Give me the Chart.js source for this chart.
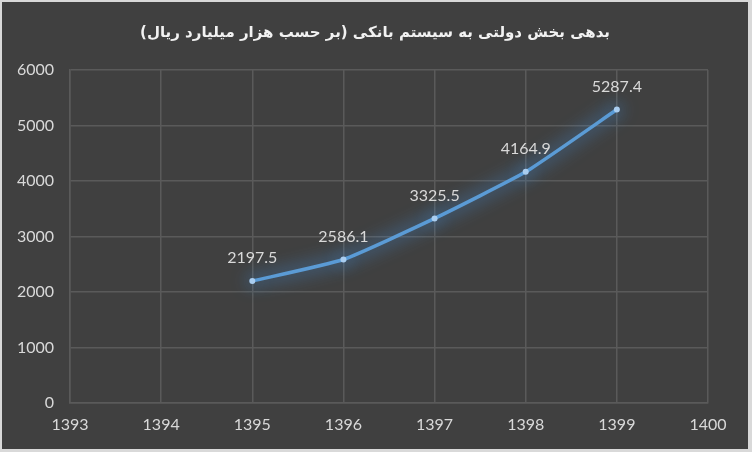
<!DOCTYPE html>
<html>
<head>
<meta charset="utf-8">
<script src="https://cdn.jsdelivr.net/npm/chart.js@4.4.0/dist/chart.umd.min.js"></script>
<style>
  html, body { margin: 0; padding: 0; background: #d9d9d9; }
  #outer { position: absolute; left: 0; top: 0; width: 752px; height: 452px; background: #d9d9d9; }
  #inner { position: absolute; left: 2px; top: 2px; width: 746px; height: 447px; background: #404040; }
  canvas { display: block; }
</style>
</head>
<body>
<div id="outer"><div id="inner"><canvas id="c" width="746" height="447"></canvas></div></div>
<script>
const titleText = 'بدهی بخش دولتی به سیستم بانکی (بر حسب هزار میلیارد ریال)';
const years = [1395, 1396, 1397, 1398, 1399];
const debtValues = [2197.5, 2586.1, 3325.5, 4164.9, 5287.4];
const debtLabels = ['2197.5', '2586.1', '3325.5', '4164.9', '5287.4'];
const xTickMin = 1393, xTickMax = 1400;
const yTickMin = 0, yTickMax = 6000, yTickStep = 1000;

const titlePlugin = {
  id: 'rtlTitle',
  afterDraw(chart) {
    const ctx = chart.ctx;
    ctx.save();
    ctx.font = 'bold 15px "DejaVu Sans", sans-serif';
    ctx.fillStyle = '#f2f2f2';
    ctx.direction = 'rtl';
    ctx.textAlign = 'right';
    ctx.textBaseline = 'middle';
    ctx.fillText(titleText, 608, 31);
    ctx.restore();
  }
};

const glowPlugin = {
  id: 'glow',
  beforeDatasetDraw(chart) {
    const ctx = chart.ctx;
    ctx.save();
    ctx.shadowColor = 'rgba(70,160,255,1)';
    ctx.shadowBlur = 18;
  },
  afterDatasetDraw(chart) {
    chart.ctx.restore();
  }
};

const labelPlugin = {
  id: 'valueLabels',
  afterDatasetsDraw(chart) {
    const ctx = chart.ctx;
    const meta = chart.getDatasetMeta(0);
    ctx.save();
    ctx.font = '16px Lato, "Open Sans", sans-serif';
    ctx.fillStyle = '#d9d9d9';
    ctx.textAlign = 'center';
    ctx.textBaseline = 'middle';
    meta.data.forEach((pt, i) => {
      ctx.fillText(debtLabels[i], pt.x, pt.y - 23);
    });
    ctx.restore();
  }
};

new Chart(document.getElementById('c'), {
  type: 'line',
  data: {
    datasets: [{
      data: years.map((y, i) => ({ x: y, y: debtValues[i] })),
      borderColor: '#5b9bd5',
      borderWidth: 3.5,
      pointRadius: 3,
      pointBackgroundColor: '#a9cdf0',
      pointBorderColor: '#a9cdf0',
      pointBorderWidth: 0,
      tension: 0.15,
      fill: false
    }]
  },
  options: {
    responsive: false,
    animation: false,
    devicePixelRatio: 1,
    layout: { padding: { left: 0, right: 40, top: 68, bottom: 0 } },
    plugins: {
      legend: { display: false },
      tooltip: { enabled: false },
      title: { display: false }
    },
    scales: {
      x: {
        type: 'linear',
        min: xTickMin,
        max: xTickMax,
        ticks: {
          stepSize: 1,
          color: '#d9d9d9',
          font: { family: 'Lato, "Open Sans", sans-serif', size: 16 },
          padding: 12,
          callback: v => String(v)
        },
        grid: { color: '#5a5a5a', lineWidth: 1.5, drawTicks: false },
        border: { color: '#5a5a5a', width: 1.5 },
        afterFit: s => { s.height = 46; }
      },
      y: {
        min: yTickMin,
        max: yTickMax,
        ticks: {
          stepSize: yTickStep,
          color: '#d9d9d9',
          font: { family: 'Lato, "Open Sans", sans-serif', size: 16 },
          padding: 16,
          callback: v => String(v)
        },
        grid: { color: '#5a5a5a', lineWidth: 1.5, drawTicks: false },
        border: { color: '#5a5a5a', width: 1.5 },
        afterFit: s => { s.width = 68; }
      }
    }
  },
  plugins: [glowPlugin, labelPlugin, titlePlugin]
});
</script>
</body>
</html>
